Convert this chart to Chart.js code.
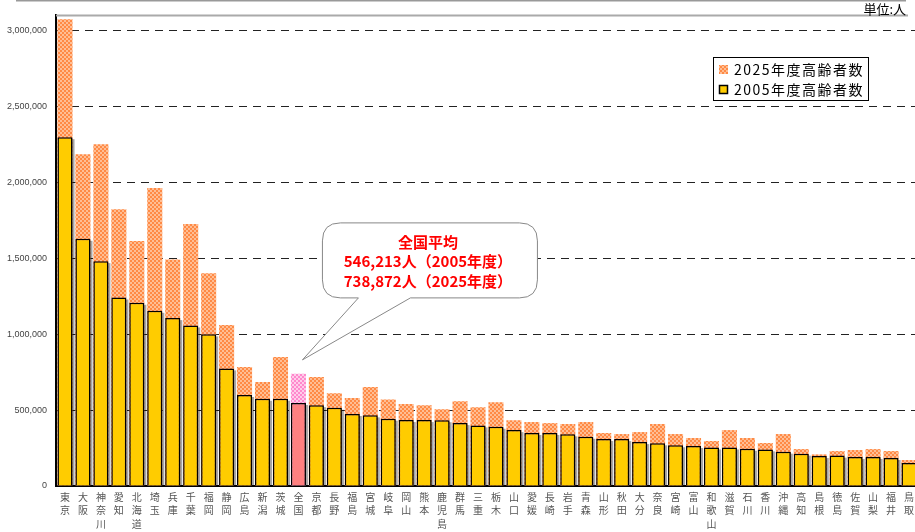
<!DOCTYPE html>
<html lang="ja">
<head>
<meta charset="utf-8">
<title>都道府県別高齢者数</title>
<script src="https://cdn.jsdelivr.net/npm/chart.js@4.4.1/dist/chart.umd.min.js"></script>
<style>
  html, body { margin: 0; padding: 0; background: #fff; overflow: hidden; }
  #wrap { position: relative; width: 918px; height: 532px; }
</style>
</head>
<body>
<div id="wrap"><canvas id="chart"></canvas></div>
<script>
// Prefectures sorted by 2005 count, with the national average inserted in place
const prefectures = [
  '東京', '大阪', '神奈川', '愛知', '北海道', '埼玉', '兵庫', '千葉', '福岡', '静岡',
  '広島', '新潟', '茨城', '全国', '京都', '長野', '福島', '宮城', '岐阜', '岡山',
  '熊本', '鹿児島', '群馬', '三重', '栃木', '山口', '愛媛', '長崎', '岩手', '青森',
  '山形', '秋田', '大分', '奈良', '宮崎', '富山', '和歌山', '滋賀', '石川', '香川',
  '沖縄', '高知', '島根', '徳島', '佐賀', '山梨', '福井', '鳥取'
];

// 2005年度高齢者数 (人)
const elderly2005 = [
  2296000, 1627000, 1480000, 1241000, 1206000, 1153000, 1105000, 1057000, 998000, 774000,
  599000, 574000, 574000, 546213, 532000, 515000, 474000, 465000, 443000, 434000,
  434000, 433000, 414000, 399000, 390000, 368000, 349000, 349000, 340000, 324000,
  309000, 309000, 289000, 281000, 268000, 263000, 254000, 254000, 245000, 241000,
  226000, 213000, 197000, 200000, 191000, 191000, 184000, 152000
];

// 2025年度高齢者数 (人)
const elderly2025 = [
  3072000, 2184000, 2250000, 1822000, 1612000, 1961000, 1491000, 1724000, 1401000, 1059000,
  783000, 684000, 849000, 738872, 717000, 610000, 579000, 651000, 570000, 539000,
  531000, 505000, 557000, 518000, 551000, 432000, 421000, 414000, 408000, 421000,
  349000, 342000, 355000, 408000, 342000, 316000, 296000, 368000, 316000, 283000,
  342000, 243000, 208000, 230000, 237000, 243000, 230000, 171000
];

const yTicks = [0, 500000, 1000000, 1500000, 2000000, 2500000, 3000000];
const yMax = 3100000;

const nationalIndex = prefectures.indexOf('全国');
const legendLabels = ['2025年度高齢者数', '2005年度高齢者数'];
const calloutLines = [
  '全国平均',
  elderly2005[nationalIndex].toLocaleString('en-US') + '人（2005年度）',
  elderly2025[nationalIndex].toLocaleString('en-US') + '人（2025年度）'
];

// small checker tile used as a hatch fill
function makeChecker(c1, c2) {
  const tile = document.createElement('canvas');
  tile.width = 4;
  tile.height = 4;
  const t = tile.getContext('2d');
  t.fillStyle = c1;
  t.fillRect(0, 0, 4, 4);
  t.fillStyle = c2;
  t.fillRect(0, 0, 2, 2);
  t.fillRect(2, 2, 2, 2);
  return t.createPattern(tile, 'repeat');
}

const orangeHatch = makeChecker('#FF8A45', '#FFBE94');
const pinkHatch = makeChecker('#FF88CC', '#FFCCEA');

const fill2005 = prefectures.map((p, i) => i === nationalIndex ? '#FF8080' : '#FFCC00');
const fill2025 = prefectures.map((p, i) => i === nationalIndex ? pinkHatch : orangeHatch);

// grey drop shadow behind the 2005 bars
const barShadow = {
  id: 'barShadow',
  beforeDatasetDraw(chart, args) {
    if (args.index !== 0) return;
    const ctx = chart.ctx;
    const base = chart.scales.y.getPixelForValue(0);
    ctx.save();
    ctx.fillStyle = 'rgba(0,0,0,0.35)';
    args.meta.data.forEach(bar => {
      const w = bar.width;
      ctx.fillRect(bar.x - w / 2 + 2, bar.y + 2, w, base - bar.y - 2);
    });
    ctx.restore();
  }
};

// frame lines, unit label, legend box and the callout bubble
const decorations = {
  id: 'decorations',
  afterDraw(chart) {
    const ctx = chart.ctx;
    const area = chart.chartArea;
    const x = chart.scales.x;
    const y = chart.scales.y;
    ctx.save();

    // outer top rule and plot top border
    ctx.strokeStyle = '#999';
    ctx.lineWidth = 1.5;
    ctx.beginPath();
    ctx.moveTo(16, 0.75);
    ctx.lineTo(906, 0.75);
    ctx.stroke();
    ctx.strokeStyle = '#aaa';
    ctx.lineWidth = 2;
    ctx.beginPath();
    ctx.moveTo(area.left, area.top + 0.5);
    ctx.lineTo(908, area.top + 0.5);
    ctx.stroke();

    ctx.fillStyle = '#000';
    ctx.font = '13px "Noto Sans CJK JP"';
    ctx.textAlign = 'right';
    ctx.textBaseline = 'middle';
    ctx.fillText('単位:人', 906, 9);

    // legend
    const lx = 713, ly = 57, lw = 155, lh = 43;
    ctx.fillStyle = '#fff';
    ctx.fillRect(lx, ly, lw, lh);
    ctx.strokeStyle = '#000';
    ctx.lineWidth = 1;
    ctx.strokeRect(lx + 0.5, ly + 0.5, lw, lh);
    ctx.fillStyle = orangeHatch;
    ctx.fillRect(lx + 6, ly + 8, 9, 9);
    ctx.fillStyle = '#FFCC00';
    ctx.fillRect(lx + 6, ly + 28, 9, 9);
    ctx.strokeStyle = '#000';
    ctx.lineWidth = 1.5;
    ctx.strokeRect(lx + 6.5, ly + 28.5, 8, 8);
    ctx.fillStyle = '#000';
    ctx.font = '14px "Noto Sans CJK JP"';
    ctx.letterSpacing = '1.5px';
    ctx.textAlign = 'left';
    ctx.fillText(legendLabels[0], lx + 21, ly + 13);
    ctx.fillText(legendLabels[1], lx + 21, ly + 33);
    ctx.letterSpacing = '0px';

    // callout pointing at the national average bar
    const tipX = x.getPixelForValue(nationalIndex) + 4;
    const tipY = y.getPixelForValue(830000);
    const left = tipX + 20, right = tipX + 235;
    const top = tipY - 137, bottom = tipY - 62;
    const r = 18;
    ctx.beginPath();
    ctx.moveTo(left + r, top);
    ctx.lineTo(right - r, top);
    ctx.quadraticCurveTo(right, top, right, top + r);
    ctx.lineTo(right, bottom - r);
    ctx.quadraticCurveTo(right, bottom, right - r, bottom);
    ctx.lineTo(tipX + 108, bottom);
    ctx.lineTo(tipX, tipY);
    ctx.lineTo(tipX + 56, bottom);
    ctx.lineTo(left + r, bottom);
    ctx.quadraticCurveTo(left, bottom, left, bottom - r);
    ctx.lineTo(left, top + r);
    ctx.quadraticCurveTo(left, top, left + r, top);
    ctx.closePath();
    ctx.fillStyle = '#fff';
    ctx.fill();
    ctx.strokeStyle = '#888';
    ctx.lineWidth = 1;
    ctx.stroke();

    ctx.fillStyle = '#FF0000';
    ctx.font = 'bold 15px "Noto Sans CJK JP"';
    ctx.textAlign = 'center';
    const cx = (left + right) / 2 - 2;
    calloutLines.forEach((line, i) => {
      ctx.fillText(line, cx, top + 19 + i * 19.5);
    });

    ctx.restore();
  }
};

const ctx = document.getElementById('chart').getContext('2d');
const chart = new Chart(ctx, {
  type: 'bar',
  data: {
    labels: prefectures.map(p => p.split('')),
    datasets: [
      {
        label: legendLabels[1],
        data: elderly2005,
        backgroundColor: fill2005,
        borderColor: '#000',
        borderWidth: 1.5,
        barPercentage: 0.84,
        categoryPercentage: 1,
        order: 0
      },
      {
        label: legendLabels[0],
        data: elderly2025,
        backgroundColor: fill2025,
        borderWidth: 0,
        barPercentage: 0.84,
        categoryPercentage: 1,
        order: 1
      }
    ]
  },
  options: {
    responsive: true,
    maintainAspectRatio: false,
    devicePixelRatio: 1,
    animation: false,
    layout: { padding: { top: 15, right: 0, bottom: 0, left: 0 } },
    plugins: {
      legend: { display: false },
      tooltip: { enabled: false }
    },
    scales: {
      x: {
        stacked: true,
        offset: true,
        grid: { display: false, drawTicks: false },
        border: { color: '#000', width: 2 },
        ticks: {
          autoSkip: false,
          maxRotation: 0,
          padding: 4,
          color: '#555',
          font: { family: '"Noto Sans CJK JP"', size: 10, lineHeight: 1.35 }
        },
        afterFit(scale) { scale.height = 46; }
      },
      y: {
        stacked: false,
        min: 0,
        max: yMax,
        afterBuildTicks(scale) { scale.ticks = yTicks.map(v => ({ value: v })); },
        grid: {
          color: c => (c.tick && c.tick.value === 0) ? 'rgba(0,0,0,0)' : '#222',
          lineWidth: 1,
          drawTicks: false
        },
        border: { color: '#000', width: 2, dash: [8, 6] },
        ticks: {
          padding: 9,
          color: '#444',
          font: { family: '"Liberation Sans"', size: 9 },
          callback: v => v.toLocaleString('en-US')
        },
        afterFit(scale) { scale.width = 56; }
      }
    }
  },
  plugins: [barShadow, decorations]
});
</script>
</body>
</html>
